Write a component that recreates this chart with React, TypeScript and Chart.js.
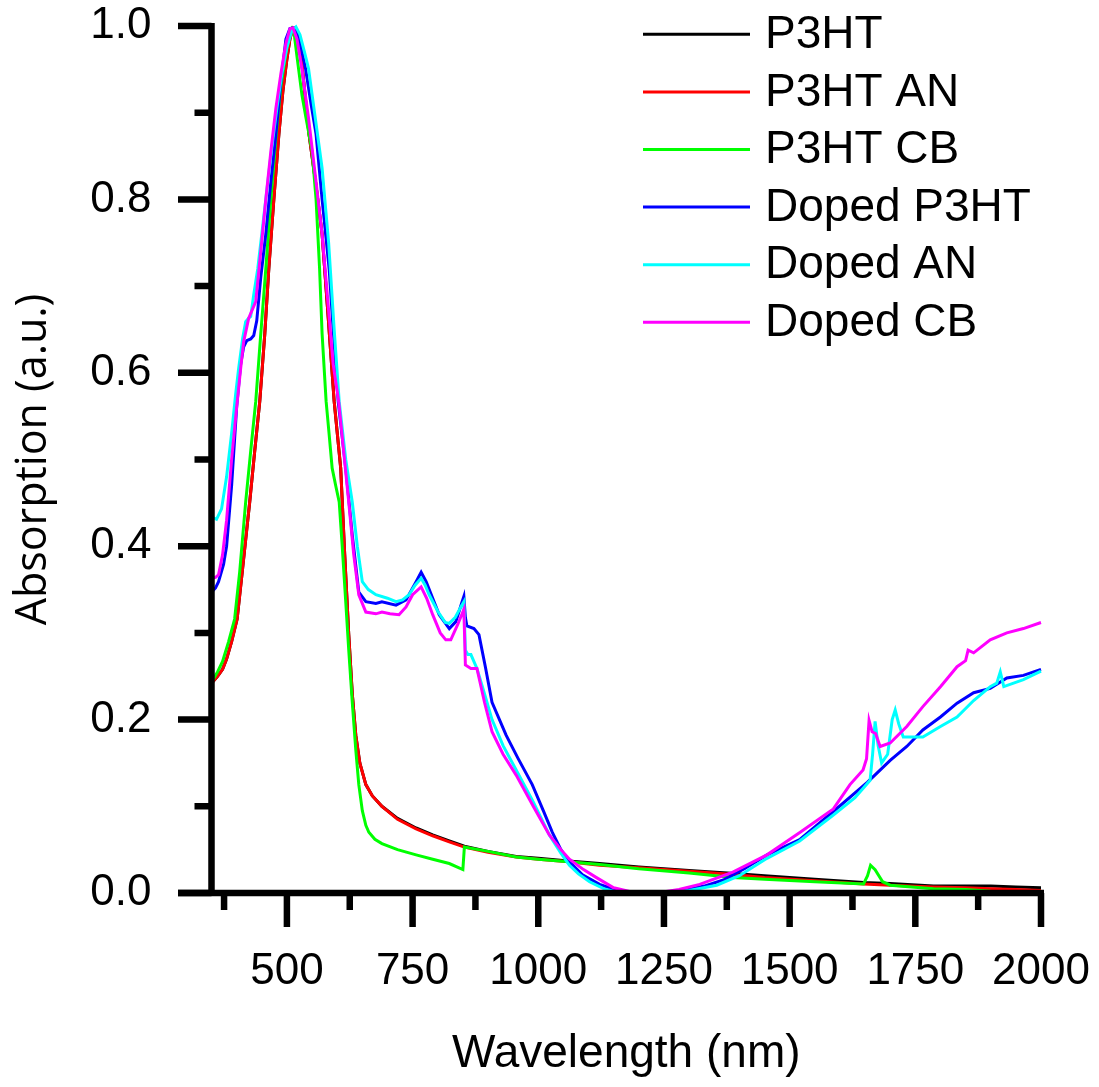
import React, { useEffect, useRef } from "react";
import { Chart, registerables } from "chart.js";

Chart.register(...registerables);

// ---------- data ----------
const seriesNames = ["P3HT", "P3HT AN", "P3HT CB", "Doped P3HT", "Doped AN", "Doped CB"];
const seriesColors = ["#000000", "#ff0000", "#00ff00", "#0000ff", "#00ffff", "#ff00ff"];

const xTickValues = [500, 750, 1000, 1250, 1500, 1750, 2000];
const xMinorTickValues = [375, 625, 875, 1125, 1375, 1625, 1875];
const yTickValues = [0, 0.2, 0.4, 0.6, 0.8, 1.0];
const yMinorTickValues = [0.1, 0.3, 0.5, 0.7, 0.9];

const p3htX = [350, 353, 362, 372, 380, 390, 401, 412, 426, 436, 446, 456, 464, 474, 484, 492, 500, 506, 512, 516, 522, 530, 544, 557, 570, 582, 594, 607, 615, 623, 630, 637, 645, 657, 670, 689, 720, 757, 790, 823, 853, 900, 956, 1000, 1060, 1122, 1200, 1300, 1376, 1450, 1550, 1647, 1700, 1786, 1850, 1900, 1950, 2000];
const p3htY = [0.243, 0.244, 0.25, 0.258, 0.27, 0.29, 0.316, 0.375, 0.451, 0.51, 0.567, 0.645, 0.72, 0.8, 0.875, 0.925, 0.962, 0.985, 0.998, 0.997, 0.985, 0.955, 0.875, 0.82, 0.76, 0.665, 0.567, 0.49, 0.39, 0.298, 0.23, 0.182, 0.15, 0.125, 0.112, 0.1, 0.086, 0.075, 0.067, 0.06, 0.054, 0.048, 0.042, 0.04, 0.037, 0.034, 0.03, 0.026, 0.023, 0.02, 0.016, 0.012, 0.011, 0.008, 0.008, 0.008, 0.007, 0.006];

const p3htAnX = [350, 353, 362, 372, 380, 390, 401, 412, 426, 436, 446, 456, 464, 474, 484, 492, 500, 506, 512, 516, 522, 530, 544, 557, 570, 582, 594, 607, 615, 623, 630, 637, 645, 657, 670, 689, 720, 757, 790, 823, 853, 900, 956, 1000, 1060, 1122, 1200, 1300, 1376, 1450, 1550, 1647, 1700, 1786, 1850, 1900, 1950, 2000];
const p3htAnY = [0.243, 0.244, 0.25, 0.258, 0.27, 0.29, 0.316, 0.375, 0.451, 0.51, 0.567, 0.645, 0.72, 0.8, 0.875, 0.925, 0.962, 0.985, 0.998, 0.997, 0.985, 0.955, 0.875, 0.82, 0.76, 0.665, 0.567, 0.49, 0.39, 0.298, 0.23, 0.182, 0.15, 0.125, 0.112, 0.1, 0.085, 0.074, 0.066, 0.059, 0.053, 0.047, 0.0416, 0.039, 0.036, 0.032, 0.029, 0.025, 0.022, 0.018, 0.014, 0.0104, 0.009, 0.007, 0.006, 0.005, 0.004, 0.003];

const p3htCbX = [350, 353, 362, 372, 384, 396, 406, 418, 428, 438, 448, 458, 468, 478, 488, 498, 506, 510, 514, 520, 530, 538, 550, 558, 565, 570, 578, 584, 590, 597, 604, 610, 617, 623, 630, 637, 643, 650, 657, 663, 675, 689, 720, 757, 790, 823, 850, 853, 900, 956, 1000, 1060, 1122, 1200, 1300, 1387, 1450, 1550, 1647, 1655, 1661, 1670, 1685, 1700, 1786, 1850, 1900, 1994, 2000];
const p3htCbY = [0.245, 0.246, 0.255, 0.267, 0.29, 0.316, 0.37, 0.451, 0.51, 0.567, 0.645, 0.72, 0.8, 0.87, 0.93, 0.97, 0.993, 0.997, 0.993, 0.965, 0.92, 0.894, 0.856, 0.8, 0.72, 0.645, 0.567, 0.529, 0.49, 0.47, 0.451, 0.4, 0.336, 0.28, 0.22, 0.165, 0.125, 0.095, 0.078, 0.07, 0.062, 0.057, 0.05, 0.044, 0.039, 0.034, 0.027, 0.053, 0.048, 0.0416, 0.039, 0.036, 0.033, 0.028, 0.023, 0.018, 0.016, 0.013, 0.0104, 0.02, 0.032, 0.027, 0.013, 0.009, 0.005, 0.004, 0.002, 0.001, 0.002];

const dopedX = [350, 358, 364, 374, 380, 390, 400, 408, 414, 420, 428, 434, 440, 448, 458, 468, 478, 488, 498, 506, 514, 522, 530, 537, 548, 558, 570, 584, 592, 602, 617, 630, 643, 657, 677, 689, 717, 737, 757, 767, 777, 790, 803, 823, 836, 848, 852, 855, 858, 872, 882, 895, 908, 936, 960, 988, 1010, 1028, 1045, 1062, 1088, 1122, 1162, 1228, 1288, 1330, 1368, 1410, 1455, 1521, 1587, 1655, 1700, 1733, 1765, 1800, 1833, 1866, 1899, 1932, 1965, 2000];
const dopedY = [0.347, 0.352, 0.359, 0.379, 0.4, 0.47, 0.56, 0.61, 0.63, 0.637, 0.639, 0.643, 0.66, 0.71, 0.76, 0.82, 0.875, 0.935, 0.985, 0.997, 0.998, 0.99, 0.97, 0.951, 0.91, 0.875, 0.8, 0.72, 0.65, 0.567, 0.49, 0.413, 0.347, 0.336, 0.334, 0.336, 0.332, 0.338, 0.359, 0.37, 0.359, 0.34, 0.321, 0.305, 0.313, 0.335, 0.342, 0.318, 0.308, 0.305, 0.298, 0.26, 0.22, 0.182, 0.155, 0.125, 0.095, 0.07, 0.05, 0.036, 0.021, 0.01, 0.002, 0.0, 0.003, 0.008, 0.015, 0.028, 0.044, 0.062, 0.094, 0.128, 0.153, 0.169, 0.188, 0.203, 0.219, 0.231, 0.236, 0.248, 0.251, 0.258];

const dopedAnX = [350, 360, 370, 380, 390, 398, 404, 412, 418, 424, 428, 434, 442, 450, 460, 470, 480, 490, 500, 510, 518, 526, 535, 543, 555, 570, 583, 594, 604, 617, 630, 640, 650, 662, 677, 700, 717, 730, 743, 755, 767, 775, 783, 800, 815, 823, 835, 846, 852, 855, 860, 866, 878, 893, 908, 930, 955, 990, 1022, 1045, 1062, 1080, 1102, 1130, 1162, 1255, 1300, 1355, 1400, 1455, 1520, 1587, 1630, 1660, 1665, 1670, 1676, 1683, 1695, 1704, 1710, 1717, 1726, 1765, 1800, 1833, 1866, 1899, 1912, 1919, 1926, 1965, 2000];
const dopedAnY = [0.434, 0.431, 0.443, 0.48, 0.53, 0.575, 0.605, 0.64, 0.659, 0.663, 0.665, 0.69, 0.72, 0.76, 0.81, 0.86, 0.905, 0.945, 0.975, 0.995, 0.999, 0.99, 0.97, 0.951, 0.9, 0.836, 0.75, 0.65, 0.567, 0.5, 0.451, 0.4, 0.359, 0.35, 0.344, 0.34, 0.336, 0.338, 0.344, 0.355, 0.363, 0.355, 0.344, 0.325, 0.312, 0.311, 0.318, 0.33, 0.336, 0.28, 0.275, 0.275, 0.259, 0.23, 0.2, 0.17, 0.143, 0.105, 0.067, 0.046, 0.032, 0.022, 0.013, 0.005, 0.0, 0.0, 0.003, 0.009, 0.02, 0.04, 0.06, 0.09, 0.11, 0.13, 0.16, 0.198, 0.17, 0.15, 0.16, 0.2, 0.211, 0.195, 0.18, 0.18, 0.192, 0.203, 0.222, 0.238, 0.242, 0.255, 0.238, 0.246, 0.256];

const dopedCbX = [350, 358, 364, 372, 380, 390, 400, 408, 414, 424, 438, 448, 458, 468, 478, 488, 498, 506, 512, 520, 530, 543, 556, 570, 584, 592, 603, 623, 633, 643, 657, 677, 689, 705, 723, 737, 750, 767, 778, 790, 805, 816, 826, 840, 852, 855, 866, 878, 893, 908, 930, 956, 990, 1022, 1045, 1062, 1090, 1115, 1150, 1188, 1235, 1280, 1321, 1387, 1455, 1521, 1587, 1620, 1646, 1653, 1658, 1664, 1671, 1680, 1700, 1733, 1765, 1800, 1833, 1850, 1855, 1866, 1899, 1932, 1965, 2000];
const dopedCbY = [0.363, 0.364, 0.367, 0.39, 0.43, 0.5, 0.56, 0.605, 0.636, 0.663, 0.682, 0.74, 0.8, 0.855, 0.905, 0.945, 0.98, 0.997, 0.998, 0.985, 0.95, 0.894, 0.83, 0.76, 0.665, 0.61, 0.567, 0.451, 0.39, 0.344, 0.324, 0.322, 0.324, 0.322, 0.321, 0.33, 0.344, 0.353, 0.34, 0.321, 0.3, 0.292, 0.292, 0.31, 0.327, 0.263, 0.259, 0.259, 0.22, 0.186, 0.16, 0.136, 0.1, 0.067, 0.05, 0.039, 0.027, 0.018, 0.006, 0.001, 0.0, 0.004, 0.01, 0.024, 0.044, 0.07, 0.097, 0.125, 0.142, 0.155, 0.199, 0.186, 0.184, 0.169, 0.173, 0.192, 0.215, 0.238, 0.261, 0.268, 0.28, 0.277, 0.292, 0.3, 0.305, 0.312];

const seriesX = [p3htX, p3htAnX, p3htCbX, dopedX, dopedAnX, dopedCbX];
const seriesY = [p3htY, p3htAnY, p3htCbY, dopedY, dopedAnY, dopedCbY];

const X_MIN = 350;
const X_MAX = 2000;
const Y_MIN = 0;
const Y_MAX = 1;

// ---------- styling ----------
const SANS = "'Liberation Sans', Arial, Helvetica, sans-serif";

const originAxesPlugin = {
  id: "originAxes",
  afterDatasetsDraw(chart: any) {
    const { ctx } = chart;
    const xs = chart.scales.x;
    const ys = chart.scales.y;
    const x0 = xs.getPixelForValue(X_MIN);
    const xEnd = xs.getPixelForValue(X_MAX);
    const y0 = ys.getPixelForValue(Y_MIN);
    const yTop = ys.getPixelForValue(Y_MAX);
    ctx.save();
    ctx.strokeStyle = "#000";
    ctx.lineCap = "butt";
    ctx.lineWidth = 6.5;
    ctx.beginPath();
    ctx.moveTo(x0, yTop - 3);
    ctx.lineTo(x0, y0 + 3);
    ctx.moveTo(x0 - 33.5, y0);
    ctx.lineTo(xEnd + 3, y0);
    ctx.stroke();
    ctx.beginPath();
    yTickValues.forEach((v) => {
      const p = ys.getPixelForValue(v);
      ctx.moveTo(x0 - 33.5, p);
      ctx.lineTo(x0, p);
    });
    yMinorTickValues.forEach((v) => {
      const p = ys.getPixelForValue(v);
      ctx.moveTo(x0 - 17, p);
      ctx.lineTo(x0, p);
    });
    xTickValues.forEach((v) => {
      const p = xs.getPixelForValue(v);
      ctx.moveTo(p, y0);
      ctx.lineTo(p, y0 + 34);
    });
    xMinorTickValues.forEach((v) => {
      const p = xs.getPixelForValue(v);
      ctx.moveTo(p, y0);
      ctx.lineTo(p, y0 + 17);
    });
    ctx.stroke();
    ctx.restore();
  },
};

const lineLegendPlugin = {
  id: "lineLegend",
  afterDraw(chart: any) {
    const { ctx } = chart;
    ctx.save();
    chart.data.datasets.forEach((ds: any, i: number) => {
      const yy = 34.3 + i * 57.6;
      ctx.strokeStyle = ds.borderColor;
      ctx.lineWidth = 3;
      ctx.beginPath();
      ctx.moveTo(643, yy);
      ctx.lineTo(750, yy);
      ctx.stroke();
      ctx.fillStyle = "#000";
      ctx.font = `46px ${SANS}`;
      ctx.textBaseline = "middle";
      ctx.textAlign = "left";
      ctx.fillText(ds.label, 765, yy + 1);
    });
    ctx.restore();
  },
};

export default function App() {
  const canvasRef = useRef<HTMLCanvasElement | null>(null);

  useEffect(() => {
    if (!canvasRef.current) return;
    Chart.defaults.font.family = SANS;
    const datasets = seriesNames.map((name, i) => ({
      label: name,
      data: seriesX[i].map((x, j) => ({ x, y: seriesY[i][j] })),
      borderColor: seriesColors[i],
      backgroundColor: seriesColors[i],
      borderWidth: 3,
      pointRadius: 0,
      tension: 0,
      fill: false,
      order: seriesNames.length - 1 - i,
      clip: 6,
    }));

    const chart = new Chart(canvasRef.current, {
      type: "line",
      data: { datasets },
      options: {
        animation: false,
        responsive: false,
        devicePixelRatio: 1,
        layout: { padding: { left: 0, top: 26, right: 58, bottom: 0 } },
        plugins: {
          legend: { display: false },
          tooltip: { enabled: false },
        },
        scales: {
          x: {
            type: "linear",
            min: X_MIN,
            max: X_MAX,
            grid: { display: false, drawTicks: false },
            border: { display: false },
            afterBuildTicks: (s: any) => {
              s.ticks = xTickValues.map((v) => ({ value: v }));
            },
            afterFit: (s: any) => {
              s.height = 194;
              s.paddingLeft = 0;
              s.paddingRight = 0;
            },
            ticks: {
              color: "#000",
              font: { size: 44, family: SANS },
              padding: 52,
              maxRotation: 0,
              autoSkip: false,
              callback: (v: any) => String(v),
            },
            title: {
              display: true,
              text: "Wavelength (nm)",
              color: "#000",
              font: { size: 46, family: SANS },
              padding: { top: 0, bottom: 5 },
            },
          },
          y: {
            type: "linear",
            min: Y_MIN,
            max: Y_MAX,
            grid: { display: false, drawTicks: false },
            border: { display: false },
            afterBuildTicks: (s: any) => {
              s.ticks = yTickValues.map((v) => ({ value: v }));
            },
            afterFit: (s: any) => {
              s.width = 211.5;
              s.paddingTop = 0;
              s.paddingBottom = 0;
            },
            ticks: {
              color: "#000",
              font: { size: 44, family: SANS },
              padding: 60,
              callback: (v: any) => Number(v).toFixed(1),
            },
            title: {
              display: true,
              text: "Absorption (a.u.)",
              color: "#000",
              font: { size: 43, family: "'Open Sans', 'Noto Sans', sans-serif" },
              padding: { top: 8, bottom: 0 },
            },
          },
        },
      },
      plugins: [originAxesPlugin, lineLegendPlugin],
    } as any);

    return () => chart.destroy();
  }, []);

  return (
    <div style={{ position: "fixed", left: 0, top: 0, width: 1099, height: 1087, background: "#fff" }}>
      <canvas ref={canvasRef} width={1099} height={1087} style={{ display: "block" }} />
    </div>
  );
}
